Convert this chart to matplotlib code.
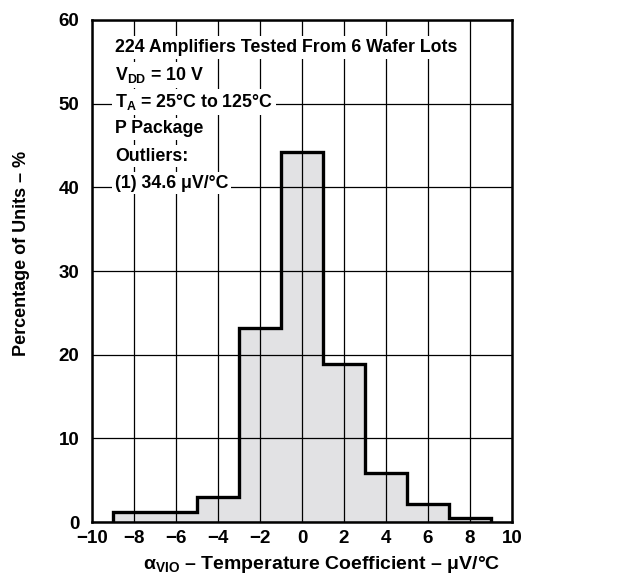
import matplotlib
matplotlib.use("Agg")
import matplotlib.pyplot as plt
import numpy as np

plt.rcParams['font.family'] = ['Liberation Sans', 'DejaVu Sans']
plt.rcParams['font.weight'] = 'bold'
plt.rcParams['mathtext.fontset'] = 'custom'
plt.rcParams['mathtext.rm'] = 'Liberation Sans:bold'
plt.rcParams['mathtext.it'] = 'Liberation Sans:bold'
plt.rcParams['mathtext.bf'] = 'Liberation Sans:bold'
plt.rcParams['mathtext.default'] = 'rm'

# histogram data (percent of units per 2 uV/C bin)
bin_edges = [-9, -7, -5, -3, -1, 1, 3, 5, 7, 9]
percent = [1.2, 1.2, 3.0, 23.2, 44.2, 18.9, 5.8, 2.1, 0.5]

x_ticks = [-10, -8, -6, -4, -2, 0, 2, 4, 6, 8, 10]
y_ticks = [0, 10, 20, 30, 40, 50, 60]
x_ticklabels = ['\u221210', '\u22128', '\u22126', '\u22124', '\u22122', '0', '2', '4', '6', '8', '10']

notes = [
    "224 Amplifiers Tested From 6 Wafer Lots",
    "V$_{DD}$ = 10 V",
    "T$_{A}$ = 25\u00b0C to 125\u00b0C",
    "P Package",
    "Outliers:",
    "(1) 34.6 \u03bcV/\u00b0C",
]

fig = plt.figure(figsize=(6.26, 5.79), dpi=100)
ax = fig.add_axes([0.147, 0.0984, 0.671, 0.8671])

ax.stairs(percent, bin_edges, fill=True, color='#e2e2e4', zorder=0.2)
ax.stairs(percent, bin_edges, baseline=0, color='black', linewidth=2.4, zorder=3)

ax.set_xlim(-10, 10)
ax.set_ylim(0, 60)
ax.set_xticks(x_ticks)
ax.set_xticklabels(x_ticklabels)
ax.set_yticks(y_ticks)
ax.tick_params(length=0, labelsize=13.5)
ax.tick_params(axis='x', pad=6)
ax.tick_params(axis='y', pad=9)
for lbl in ax.get_xticklabels() + ax.get_yticklabels():
    lbl.set_fontweight('bold')

ax.set_axisbelow(True)
ax.grid(True, color='black', linewidth=0.9)
for s in ax.spines.values():
    s.set_linewidth(1.8)

ax.set_xlabel("\u03b1$_{VIO}$ \u2013 Temperature Coefficient \u2013 \u03bcV/\u00b0C",
              fontsize=14, fontweight='bold')
ax.xaxis.set_label_coords(0.548, -0.064)
ax.set_ylabel("Percentage of Units \u2013 %", fontsize=13, fontweight='bold')
ax.yaxis.set_label_coords(-0.148, 0.534)

y0 = 0.945
for i, line in enumerate(notes):
    ax.text(0.055, y0 - i * 0.054, line, transform=ax.transAxes, fontsize=12.8,
            fontweight='bold', va='center', ha='left', zorder=4,
            bbox=dict(facecolor='white', edgecolor='none', pad=2))

fig.savefig("out.png", dpi=100)
